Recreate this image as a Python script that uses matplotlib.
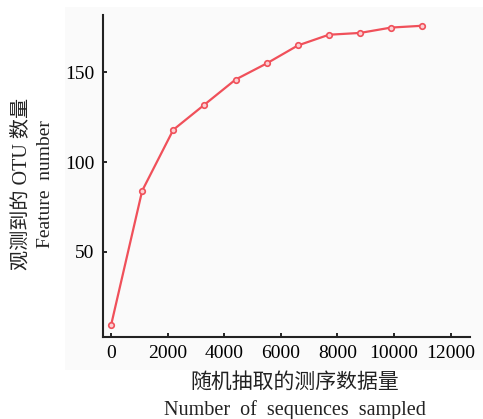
import matplotlib
matplotlib.use('Agg')
import matplotlib.pyplot as plt
from matplotlib.patches import Rectangle

# rarefaction curve
seqs_sampled = [0, 1100, 2200, 3300, 4400, 5500, 6600, 7700, 8800, 9900, 11000]
feature_num = [9, 84, 118, 132, 146, 155, 165, 171, 172, 175, 176]
x_ticks = [0, 2000, 4000, 6000, 8000, 10000, 12000]
y_ticks = [50, 100, 150]

mixed = ['Liberation Serif', 'Noto Sans CJK SC']

fig = plt.figure(figsize=(4.83, 4.19), dpi=100)
# light grey panel behind the plot
fig.patches.append(Rectangle((0.1346, 0.117), 0.8654, 0.866, transform=fig.transFigure,
                             facecolor='#fafafa', edgecolor='none', zorder=-1))

ax = fig.add_axes([0.2133, 0.1957, 0.7597, 0.7685])
ax.set_facecolor('none')

ax.plot(seqs_sampled, feature_num, color='#f0505a', lw=1.6,
        marker='o', ms=4, mfc='#fbd0d3', mec='#f0505a', mew=1.2)

ax.set_xlim(-283, 12685)
ax.set_ylim(2.5, 182)
ax.set_xticks(x_ticks)
ax.set_yticks(y_ticks)

for s in ['top', 'right']:
    ax.spines[s].set_visible(False)
for s in ['left', 'bottom']:
    ax.spines[s].set_linewidth(1.5)
    ax.spines[s].set_color('#222222')

ax.tick_params(direction='in', length=3, width=1.2, labelsize=14, pad=6)
for lab in ax.get_xticklabels() + ax.get_yticklabels():
    lab.set_family('Liberation Serif')

# axis titles (two lines each: Chinese + English)
fig.text(0.044, 0.56, '观测到的 OTU 数量', rotation=90, ha='center', va='center',
         fontsize=14.5, family=mixed, color='#222222')
fig.text(0.095, 0.56, 'Feature  number', rotation=90, ha='center', va='center',
         fontsize=14, family='Liberation Serif', color='#222222')
fig.text(0.61, 0.086, '随机抽取的测序数据量', ha='center', va='center',
         fontsize=15, family=mixed, color='#222222')
fig.text(0.61, 0.022, 'Number  of  sequences  sampled', ha='center', va='center',
         fontsize=14.5, family='Liberation Serif', color='#222222')

fig.savefig('out.png', dpi=100)
